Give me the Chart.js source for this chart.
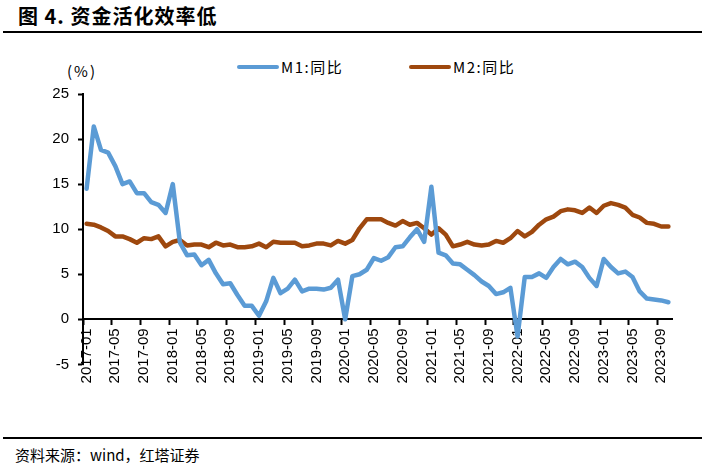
<!DOCTYPE html>
<html lang="zh-CN">
<head>
    <meta charset="UTF-8">
    <title>资金活化效率低</title>
    <script src="https://cdn.jsdelivr.net/npm/chart.js"></script>
    <style>
        body {
            margin: 0;
            width: 702px;
            height: 463px;
            position: relative;
            overflow: hidden;
            background: #fff;
            font-family: "Noto Sans CJK SC", "Liberation Sans", sans-serif;
            color: #000;
        }
        .title {
            position: absolute;
            left: 18px;
            top: 4px;
            font-size: 20px;
            font-weight: bold;
            line-height: 24px;
            letter-spacing: 1px;
        }
        .rule {
            position: absolute;
            left: 3px;
            right: 0;
            height: 2px;
            background: #000;
        }
        .unit {
            position: absolute;
            left: 67px;
            top: 61px;
            font-size: 15px;
            line-height: 19px;
            letter-spacing: 2px;
        }
        #legend {
            position: absolute;
            left: 237px;
            top: 58px;
            display: flex;
            height: 18px;
        }
        .legend-item {
            width: 172px;
            display: flex;
            align-items: center;
        }
        .legend-item span.swatch {
            width: 42px;
            height: 4.5px;
            border-radius: 3px;
            display: inline-block;
        }
        .legend-item span.text {
            margin-left: 2px;
            font-family: "Liberation Sans Narrow", "Noto Sans CJK SC", sans-serif;
            font-size: 15px;
            line-height: 18px;
            letter-spacing: 1.5px;
        }
        #wrap {
            position: absolute;
            left: 0;
            top: 0;
        }
        .source {
            position: absolute;
            left: 15px;
            top: 445px;
            font-size: 15px;
            line-height: 20px;
        }
    </style>
</head>
<body>
    <div class="title">图 4. 资金活化效率低</div>
    <div class="rule" style="top:31px"></div>
    <div class="unit">(%)</div>
    <div id="legend"></div>
    <div id="wrap"><canvas id="chart" width="702" height="400"></canvas></div>
    <div class="rule" style="top:437px"></div>
    <div class="source">资料来源：wind，红塔证券</div>

    <script>
        // 月份：2017-01 至 2023-10
        const years = [2017, 2018, 2019, 2020, 2021, 2022, 2023];
        const lastMonth = 10;
        const months = [];
        years.forEach(y => {
            for (let m = 1; m <= 12; m++) {
                if (y === 2023 && m > lastMonth) break;
                months.push(y + '-' + String(m).padStart(2, '0'));
            }
        });

        // M1 同比 (%)
        const m1 = [
            14.5, 21.4, 18.8, 18.5, 17.0, 15.0, 15.3, 14.0, 14.0, 13.0, 12.7, 11.8,
            15.0, 8.5, 7.1, 7.2, 6.0, 6.6, 5.1, 3.9, 4.0, 2.7, 1.5, 1.5,
            0.4, 2.0, 4.6, 2.9, 3.4, 4.4, 3.1, 3.4, 3.4, 3.3, 3.5, 4.4,
            0.0, 4.8, 5.0, 5.5, 6.8, 6.5, 6.9, 8.0, 8.1, 9.1, 10.0, 8.6,
            14.7, 7.4, 7.1, 6.2, 6.1, 5.5, 4.9, 4.2, 3.7, 2.8, 3.0, 3.5,
            -1.9, 4.7, 4.7, 5.1, 4.6, 5.8, 6.7, 6.1, 6.4, 5.8, 4.6, 3.7,
            6.7, 5.8, 5.1, 5.3, 4.7, 3.1, 2.3, 2.2, 2.1, 1.9
        ];

        // M2 同比 (%)
        const m2 = [
            10.6, 10.5, 10.2, 9.8, 9.2, 9.2, 8.9, 8.5, 9.0, 8.9, 9.2, 8.1,
            8.6, 8.8, 8.2, 8.3, 8.3, 8.0, 8.5, 8.2, 8.3, 8.0, 8.0, 8.1,
            8.4, 8.0, 8.6, 8.5, 8.5, 8.5, 8.1, 8.2, 8.4, 8.4, 8.2, 8.7,
            8.4, 8.8, 10.1, 11.1, 11.1, 11.1, 10.7, 10.4, 10.9, 10.5, 10.7, 10.1,
            9.4, 10.1, 9.4, 8.1, 8.3, 8.6, 8.3, 8.2, 8.3, 8.7, 8.5, 9.0,
            9.8, 9.2, 9.7, 10.5, 11.1, 11.4, 12.0, 12.2, 12.1, 11.8, 12.4, 11.8,
            12.6, 12.9, 12.7, 12.4, 11.6, 11.3, 10.7, 10.6, 10.3, 10.3
        ];

        const seriesNames = ['M1:同比', 'M2:同比'];
        const seriesColors = ['#5B9BD5', '#9E480E'];
        const labelStep = 4;

        const chart = new Chart(document.getElementById('chart'), {
            type: 'line',
            data: {
                labels: months,
                datasets: [m1, m2].map((d, i) => ({
                    label: seriesNames[i],
                    data: d,
                    borderColor: seriesColors[i],
                    backgroundColor: seriesColors[i],
                    borderWidth: 4.5,
                    pointRadius: 0,
                    tension: 0,
                    borderJoinStyle: 'round',
                    borderCapStyle: 'round'
                }))
            },
            options: {
                responsive: false,
                animation: false,
                layout: { padding: { left: 40, right: 30, top: 94, bottom: 35.6 } },
                plugins: {
                    legend: { display: false },
                    tooltip: { enabled: false }
                },
                scales: {
                    x: {
                        type: 'category',
                        position: { y: 0 },
                        offset: true,
                        border: { color: '#000', width: 2 },
                        grid: {
                            offset: true,
                            drawOnChartArea: false,
                            tickLength: 5,
                            tickWidth: 2,
                            tickColor: ctx => (ctx.index % labelStep === 0 ? '#000' : 'rgba(0,0,0,0)')
                        },
                        ticks: {
                            autoSkip: false,
                            maxRotation: 90,
                            minRotation: 90,
                            padding: 4,
                            color: '#000',
                            font: { family: 'Liberation Sans', size: 15 },
                            callback: (v, i) => (i % labelStep === 0 ? months[i] : '')
                        }
                    },
                    y: {
                        min: -5,
                        max: 25,
                        border: { color: '#000', width: 2 },
                        grid: {
                            drawOnChartArea: false,
                            tickLength: 5,
                            tickWidth: 2,
                            tickColor: '#000'
                        },
                        ticks: {
                            stepSize: 5,
                            padding: 9,
                            color: '#000',
                            font: { family: 'Liberation Sans', size: 15 }
                        },
                        afterFit: s => { s.width = 43; }
                    }
                }
            }
        });

        // 图例
        const legend = document.getElementById('legend');
        chart.data.datasets.forEach(ds => {
            const item = document.createElement('div');
            item.className = 'legend-item';
            item.innerHTML = `<span class="swatch" style="background:${ds.borderColor}"></span><span class="text">${ds.label}</span>`;
            legend.appendChild(item);
        });
    </script>
</body>
</html>
